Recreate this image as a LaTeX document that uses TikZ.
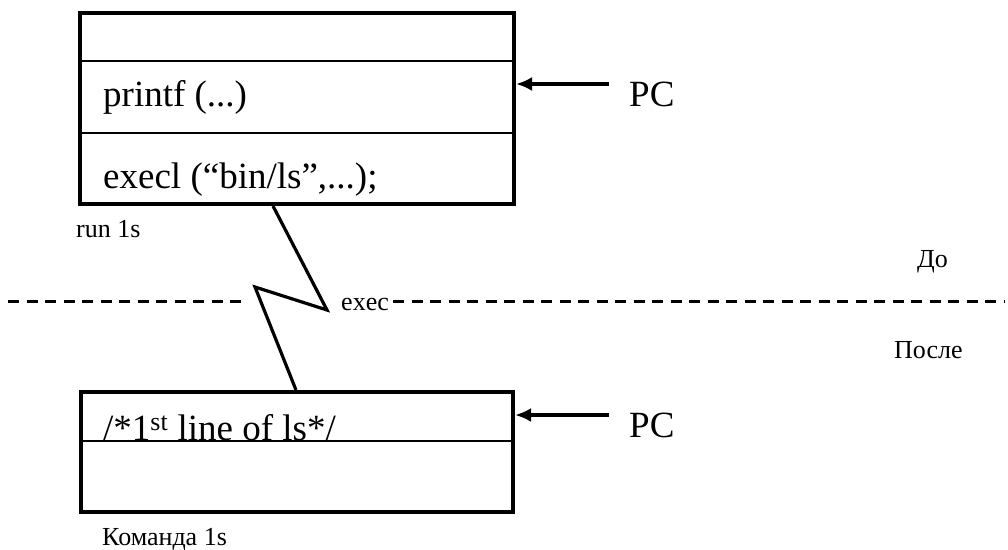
\documentclass[tikz,border=0pt]{standalone}
\usepackage{fontspec}
\setmainfont{Liberation Serif}
\usetikzlibrary{arrows.meta}

\begin{document}
\begin{tikzpicture}[x=1pt,y=-1pt,
  big/.style={anchor=base west, inner sep=0pt, font=\fontsize{37}{40}\selectfont},
  small/.style={anchor=base west, inner sep=0pt, font=\fontsize{26}{30}\selectfont},
  frame/.style={draw, line width=4pt, rectangle, inner sep=0pt},
  rule/.style={line width=2pt},
  pcarrow/.style={line width=4pt, -{Latex[length=16pt,width=14pt]}},
  jump/.style={line width=3.2pt, line join=miter},
  divider/.style={line width=3pt, dash pattern=on 11pt off 7.5pt}]
\useasboundingbox (0,0) rectangle (1008,549);

% process image before exec
\node[frame, minimum width=434pt, minimum height=191pt] (proc) at (297,108.5) {};
\draw[rule] (proc.west |- 0,61) -- (proc.east |- 0,61);
\draw[rule] (proc.west |- 0,133) -- (proc.east |- 0,133);
\node[big] (printf) at (103,106) {printf (...)};
\node[big] (execl) at (103,188) {execl (“bin/ls”,...);};
\node[small] (runls) at (76,237) {run 1s};

% process image after exec
\node[frame, minimum width=432pt, minimum height=120pt] (image) at (297,452) {};
\draw[rule] (image.west |- 0,441) -- (image.east |- 0,441);
\node[big] (first) at (103,440) {/*1\textsuperscript{st} line of ls*/};
\node[small] (cmd) at (102,545) {Команда 1s};

% program counters
\node[big] (pc1) at (629,106) {PC};
\node[big] (pc2) at (629,437) {PC};
\coordinate (pc1tail) at (609,84);
\coordinate (pc2tail) at (609,415);
\draw[pcarrow] (pc1tail) -- (pc1tail -| proc.east);
\draw[pcarrow] (pc2tail) -- (pc2tail -| image.east);

% before / after divider
\coordinate (d0) at (8,301);
\coordinate (d1) at (243,301);
\coordinate (d2) at (393,301);
\coordinate (d3) at (1004,301);
\draw[divider] (d0) -- (d1);
\draw[divider] (d2) -- (d3);
\node[small] (exec) at (341,310) {exec};
\node[small] (before) at (917,267) {До};
\node[small] (after) at (894,358) {После};

% exec jump
\coordinate (j1) at (327,310);
\coordinate (j2) at (255,287);
\draw[jump] (proc.south -| 273,0) -- (j1) -- (j2) -- (image.north -| 296,0);
\end{tikzpicture}
\end{document}
